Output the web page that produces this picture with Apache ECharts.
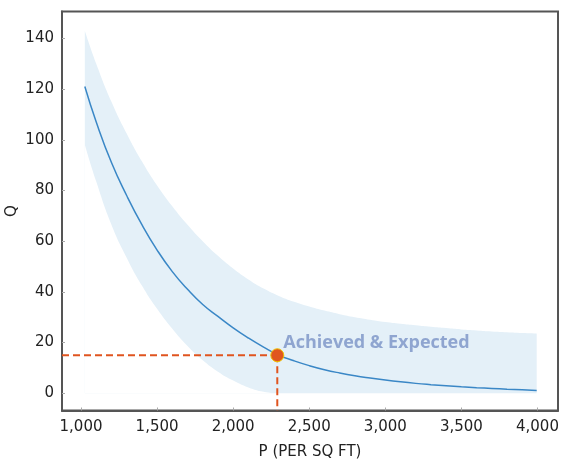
<!DOCTYPE html>
<html>
<head>
<meta charset="utf-8">
<script src="https://cdn.jsdelivr.net/npm/echarts@6/dist/echarts.min.js"></script>
<style>
html,body{margin:0;padding:0;background:#fff;}
#chart{width:561px;height:459px;}
</style>
</head>
<body>
<div id="chart"></div>
<script>
// Price grid (P, per sq ft)
const P = [1025, 1100, 1200, 1300, 1400, 1500, 1600, 1700, 1800, 1900, 2000, 2100, 2200, 2300, 2400, 2500, 2600, 2700, 2800, 2900, 3000, 3100, 3200, 3300, 3400, 3500, 3600, 3700, 3800, 3900, 3995];
// Fitted quantity curve
const Q_fit = [121, 107, 91, 78, 66.5, 56.5, 48, 41, 35, 30.3, 25.8, 21.8, 18.2, 15, 12.8, 10.9, 9.3, 8, 6.9, 6, 5.2, 4.5, 3.9, 3.4, 2.95, 2.55, 2.2, 1.9, 1.6, 1.35, 1.1];
// Confidence band
const Q_upper = [143, 130, 115, 102.5, 91.5, 82, 73.8, 66.5, 60, 54.2, 49.2, 44.9, 41.3, 38.4, 36.1, 34.2, 32.6, 31.2, 30, 29, 28.1, 27.4, 26.8, 26.2, 25.7, 25.2, 24.8, 24.4, 24.1, 23.8, 23.6];
const Q_lower = [98, 83.5, 66.5, 53.5, 42.5, 33.3, 25.4, 18.6, 13, 8.5, 5, 2.3, 0.6, 0, 0, 0, 0, 0, 0, 0, 0, 0, 0, 0, 0, 0, 0, 0, 0, 0, 0];
// Achieved point
const achievedP = 2290;
const achievedQ = 15;
const achievedLabel = 'Achieved & Expected';
// Axis extents
const xMin = 875, xMax = 4135;
const yMin = -6.8, yMax = 150.6;

const upperData = P.map((p, i) => [p, Q_upper[i]]);
const lowerData = P.map((p, i) => [p, Q_lower[i]]);
const fitData = P.map((p, i) => [p, Q_fit[i]]);

const chart = echarts.init(document.getElementById('chart'), null, {renderer: 'canvas'});
const font = 'DejaVu Sans';
chart.setOption({
  animation: false,
  backgroundColor: '#fff',
  grid: {
    left: 62, right: 3, top: 11.5, bottom: 48.5,
    containLabel: false, outerBoundsMode: 'none',
    show: true, borderColor: '#555', borderWidth: 2
  },
  xAxis: {
    type: 'value', min: xMin, max: xMax, splitNumber: 6,
    name: 'P (PER SQ FT)', nameLocation: 'middle', nameGap: 34, nameMoveOverlap: false,
    nameTextStyle: {fontFamily: font, fontSize: 15, color: '#222'},
    axisLine: {show: true, onZero: false, lineStyle: {color: '#555', width: 2}},
    axisTick: {show: true, inside: true, length: 3, lineStyle: {color: '#aaa'}},
    splitLine: {show: false},
    axisLabel: {
      fontFamily: font, fontSize: 15, color: '#222', margin: 9,
      showMinLabel: false, showMaxLabel: false,
      formatter: v => v.toLocaleString('en-US')
    }
  },
  yAxis: {
    type: 'value', min: yMin, max: yMax, splitNumber: 8,
    name: 'Q', nameLocation: 'middle', nameGap: 42, nameRotate: 90, nameMoveOverlap: false,
    nameTextStyle: {fontFamily: font, fontSize: 15, color: '#222'},
    axisLine: {show: true, onZero: false, lineStyle: {color: '#555', width: 2}},
    axisTick: {show: true, inside: true, length: 3, lineStyle: {color: '#aaa'}},
    splitLine: {show: false},
    axisLabel: {
      fontFamily: font, fontSize: 15, color: '#222', margin: 8,
      showMinLabel: false, showMaxLabel: false
    }
  },
  series: [
    {
      type: 'line', data: upperData, smooth: true,
      symbol: 'none', lineStyle: {opacity: 0},
      areaStyle: {color: '#e4f0f8', opacity: 1, origin: 0}, silent: true, z: 1
    },
    {
      type: 'line', data: lowerData, smooth: true,
      symbol: 'none', lineStyle: {opacity: 0},
      areaStyle: {color: '#ffffff', opacity: 1, origin: 0}, silent: true, z: 2
    },
    {
      type: 'line', data: fitData, smooth: true, symbol: 'none',
      lineStyle: {color: '#3a87c6', width: 1.5}, z: 3
    },
    {
      type: 'line', data: [[xMin, achievedQ], [achievedP, achievedQ]],
      symbol: 'none', lineStyle: {color: '#e0541f', width: 2, type: [7, 4]}, z: 4
    },
    {
      type: 'line', data: [[achievedP, achievedQ], [achievedP, yMin]],
      symbol: 'none', lineStyle: {color: '#e0541f', width: 2, type: [7, 4]}, z: 4
    },
    {
      type: 'scatter', data: [[achievedP, achievedQ]], symbolSize: 13,
      itemStyle: {color: '#e0561f', borderColor: '#f0c000', borderWidth: 1, opacity: 1},
      z: 6,
      label: {
        show: true, position: 'right', distance: -1, offset: [0, -12],
        formatter: achievedLabel,
        fontFamily: 'Open Sans', fontWeight: 'bold', fontSize: 18, color: '#8fa5d0'
      }
    }
  ]
});
</script>
</body>
</html>
